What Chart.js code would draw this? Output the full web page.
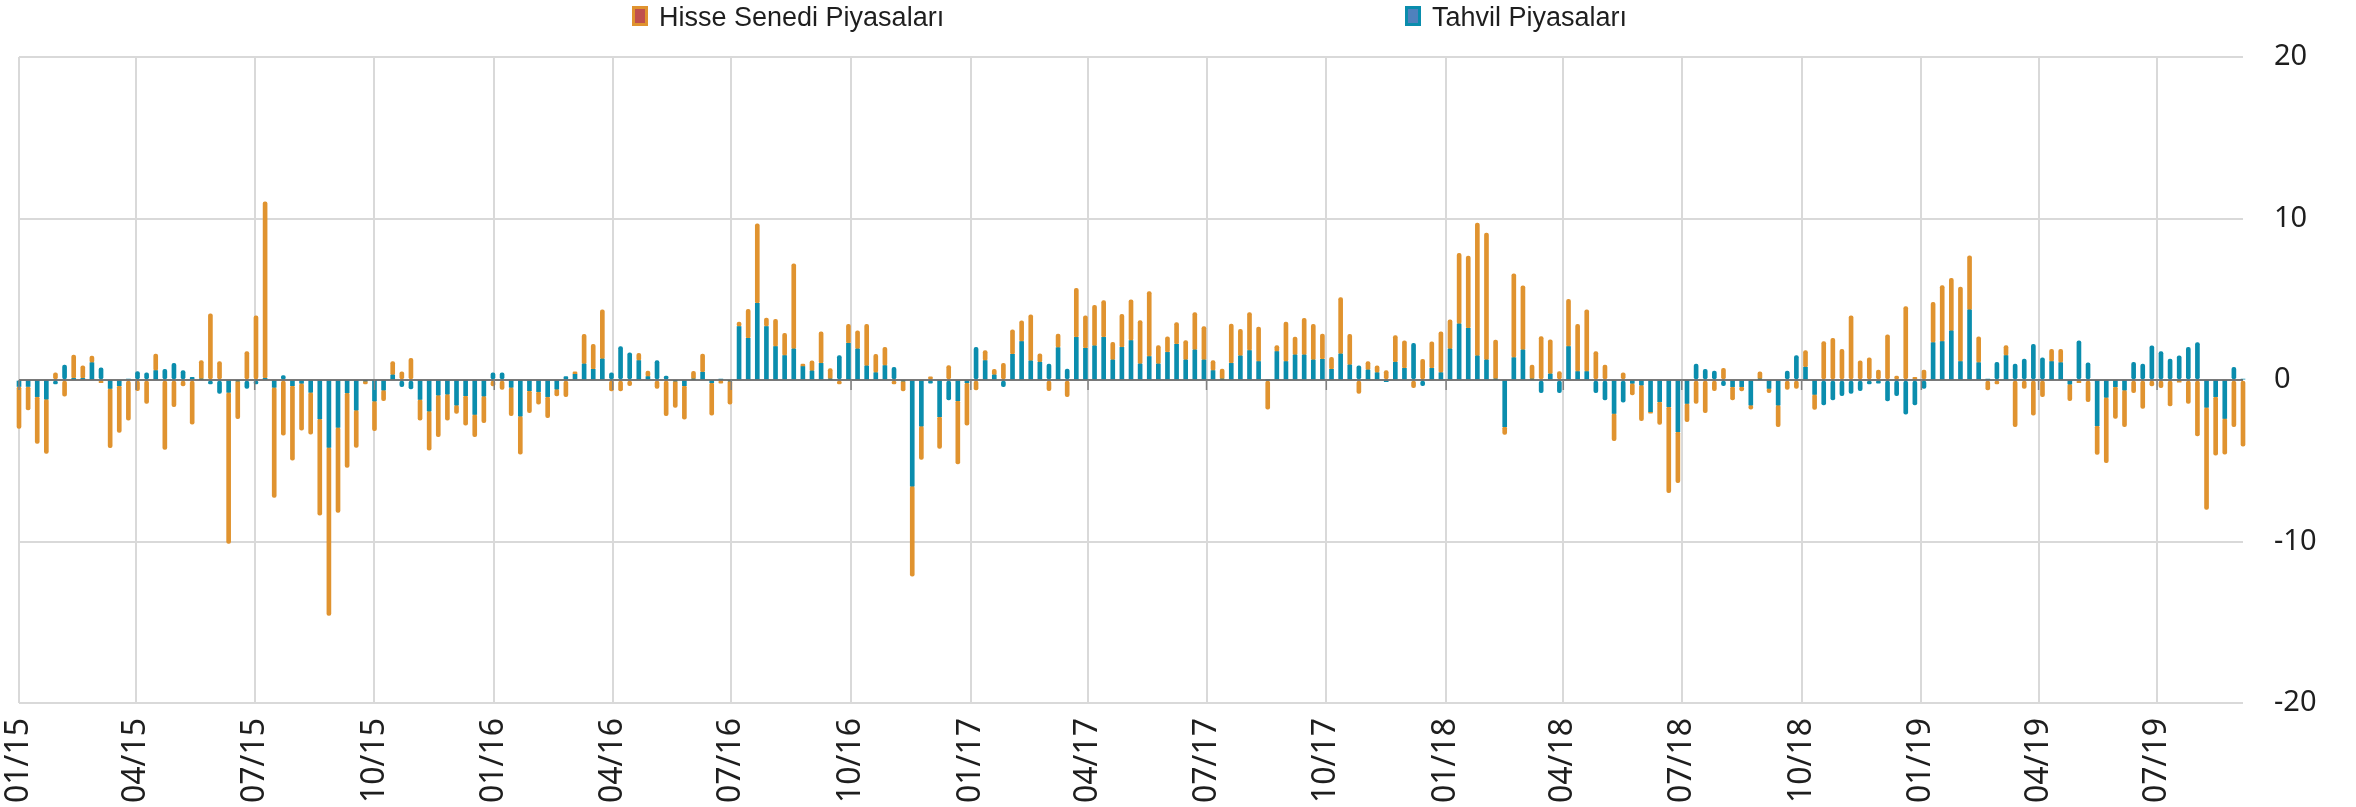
<!DOCTYPE html>
<html>
<head>
<meta charset="utf-8">
<script src="https://cdn.jsdelivr.net/npm/chart.js@4.4.1/dist/chart.umd.min.js"></script>
<style>
html,body{margin:0;padding:0;background:#ffffff;overflow:hidden;}
canvas{display:block;}
</style>
</head>
<body>
<canvas id="chart" width="2356" height="807"></canvas>
<script>
// ---- Series names ----
const seriesNames = ['Hisse Senedi Piyasaları', 'Tahvil Piyasaları'];

// ---- Categories: weekly observations starting at this date, one every 7 days ----
const firstWeek = '2015-01-01';
const weekStepDays = 7;

// ---- Tick labels (quarter starts) ----
const tickDates = ['2015-01-01','2015-04-01','2015-07-01','2015-10-01',
                   '2016-01-01','2016-04-01','2016-07-01','2016-10-01',
                   '2017-01-01','2017-04-01','2017-07-01','2017-10-01',
                   '2018-01-01','2018-04-01','2018-07-01','2018-10-01',
                   '2019-01-01','2019-04-01','2019-07-01'];
const tickLabels = ['01/15','04/15','07/15','10/15','01/16','04/16','07/16','10/16',
                    '01/17','04/17','07/17','10/17','01/18','04/18','07/18','10/18',
                    '01/19','04/19','07/19'];
const yTicks = [-20, -10, 0, 10, 20];

// ---- Hisse Senedi Piyasaları (weekly) ----
const hisse2015 = [-2.6,-1.45,-2.9,-3.37,0.45,-1.0,1.45,0.77,0.41,-0.17,
  -3.67,-2.89,-2.48,-0.66,-1.45,1.03,-4.3,-1.65,-0.37,-2.73,
  1.15,4.09,1.14,-9.36,-2.35,1.76,3.97,10.93,-6.82,-3.41,
  -4.61,-2.9,-2.59,-5.97,-10.4,-5.27,-4.62,-2.31,-0.2,-1.84,
  -0.66,0.83,0.5,1.34,-1.28,-2.42,-2.58,-1.61,-0.52,-1.82,
  -1.38,-1.65,-0.37];
const hisse2016 = [-0.58,-1.76,-2.36,-1.36,-0.77,-1.3,-0.43,
  -1.03,0.15,1.84,1.55,3.04,-0.68,-0.68,-0.35,0.45,0.35,
  -0.52,-2.21,-1.65,-2.07,0.48,1.12,-2.0,-0.2,-1.45,0.27,
  1.8,4.92,0.52,1.69,1.38,5.27,0.15,0.62,1.96,0.66,
  -0.25,1.18,1.12,2.58,1.14,1.14,-0.25,-0.62,-5.58,-2.07,
  0.2,-1.96,0.89,-3.92,-2.62];
const hisse2017 = [-0.62,0.62,0.35,1.03,1.51,
  1.28,2.85,0.52,-0.66,0.85,-1.03,3.04,2.02,2.52,2.27,
  1.1,2.05,2.52,2.69,4.03,1.14,0.97,1.34,1.2,2.31,
  2.07,0.62,0.62,2.44,1.65,2.36,2.13,-1.8,0.37,2.44,
  1.1,2.27,2.21,1.57,0.74,3.49,1.9,-0.83,0.52,0.43,
  0.58,1.65,1.71,-0.48,1.28,1.65,2.54];
const hisse2018 = [1.8,4.38,4.48,
  8.22,7.85,2.42,-0.48,5.19,3.97,0.87,2.69,2.11,0.52,
  2.93,2.93,3.82,1.76,0.93,-1.69,0.45,-0.73,-2.21,-0.1,
  -1.41,-5.33,-3.16,-1.13,-1.45,-2.02,-0.66,0.72,-0.83,-0.27,
  -0.25,0.45,-0.27,-1.34,-0.58,-0.52,1.03,-0.93,2.38,2.58,
  1.9,3.97,1.18,1.38,0.62,2.79,0.25,4.55,0.17];
const hisse2019 = [0.62,
  2.5,3.47,3.26,4.61,3.35,1.61,-0.62,-0.25,0.62,-2.89,
  -0.52,-2.17,-1.03,0.76,0.83,-1.03,-0.17,-1.34,-1.78,-4.05,
  -1.97,-2.27,-0.79,-1.76,-0.37,-0.48,-1.61,-0.14,-1.45,-3.47,
  -6.33,-3.62,-2.21,-2.89,-4.09];

// ---- Tahvil Piyasaları (weekly) ----
const tahvil2015 = [-0.4,-0.4,-1.03,-1.18,-0.25,0.93,0.1,0.1,1.07,0.76,
  -0.52,-0.35,0.06,0.52,0.45,0.58,0.66,1.03,0.58,0.17,
  0.05,-0.25,-0.83,-0.76,-0.05,-0.52,-0.25,0.1,-0.45,0.27,
  -0.35,-0.2,-0.76,-2.4,-4.17,-2.93,-0.79,-1.86,-0.05,-1.3,
  -0.62,0.31,-0.41,-0.56,-1.2,-1.92,-0.93,-0.87,-1.55,-0.97,
  -2.13,-0.99,0.45];
const tahvil2016 = [0.45,-0.45,-2.23,-0.66,-0.72,-1.03,-0.56,
  0.21,0.35,0.99,0.66,1.3,0.45,2.07,1.69,1.2,0.21,
  1.2,0.25,-0.05,-0.35,0.05,0.48,-0.17,0.05,-0.05,3.31,
  2.58,4.75,3.31,2.07,1.51,1.92,0.83,0.56,1.03,0.05,
  1.51,2.27,1.92,0.87,0.45,0.89,0.79,-0.05,-6.57,-2.85,
  -0.2,-2.27,-1.24,-1.28,-0.17];
const tahvil2017 = [2.02,1.2,0.31,-0.41,1.59,
  2.38,1.18,1.1,0.99,2.0,0.68,2.64,1.96,2.11,2.64,
  1.24,2.02,2.44,0.99,1.45,0.99,1.71,2.21,1.24,1.86,
  1.24,0.58,0.05,1.03,1.49,1.82,1.14,0,1.76,1.14,
  1.55,1.55,1.24,1.28,0.66,1.61,0.93,0.87,0.62,0.45,
  -0.1,1.1,0.72,2.27,-0.35,0.72,0.45];
const tahvil2018 = [1.92,3.47,3.2,
  1.49,1.24,0.05,-2.89,1.38,1.86,0.05,-0.79,0.37,-0.79,
  2.07,0.52,0.52,-0.79,-1.24,-2.07,-1.38,-0.2,-0.31,-1.96,
  -1.34,-1.65,-3.2,-1.45,0.99,0.66,0.56,-0.35,-0.41,-0.41,
  -1.55,0.05,-0.52,-1.55,0.56,1.51,0.79,-0.89,-1.55,-1.24,
  -0.97,-0.83,-0.66,-0.25,-0.2,-1.3,-0.97,-2.11,-1.55];
const tahvil2019 = [-0.52,
  2.31,2.38,3.04,1.14,4.34,1.07,0.05,1.1,1.51,0.99,
  1.3,2.21,1.38,1.14,1.07,-0.25,2.42,1.07,-2.83,-1.07,
  -0.41,-0.62,1.1,0.99,2.11,1.76,1.3,1.49,2.02,2.31,
  -1.69,-1.03,-2.38,0.79,0.05];

// ---- Build library structures from the arrays above ----
const hisse = [].concat(hisse2015, hisse2016, hisse2017, hisse2018, hisse2019);
const tahvil = [].concat(tahvil2015, tahvil2016, tahvil2017, tahvil2018, tahvil2019);
const MS_DAY = 86400000;
const dayOf = s => Math.round((Date.parse(s) - Date.parse(firstWeek)) / MS_DAY);
const weekDay = hisse.map((_, i) => i * weekStepDays);   // day offset of each weekly category
const tickDays = tickDates.map(dayOf);

const colors = {
  hisseBar: '#E0932F', hisseKey: '#C0504D',
  tahvilBar: '#0A8DAD', tahvilKey: '#4F81BD',
  grid: '#D9D9D9', zero: '#595959', text: '#1E1E1E'
};

const overlay = {
  id: 'overlay',
  afterDatasetsDraw(chart) {
    const {ctx, chartArea, scales} = chart;
    const y0 = scales.y.getPixelForValue(0);
    ctx.save();
    ctx.strokeStyle = colors.zero;
    ctx.lineWidth = 1.3;
    ctx.beginPath();
    ctx.moveTo(chartArea.left, y0);
    ctx.lineTo(chartArea.right, y0);
    ctx.stroke();
    ctx.strokeStyle = '#808080';
    ctx.lineWidth = 1.5;
    tickDays.forEach(d => {
      const px = scales.x.getPixelForValue(d);
      ctx.beginPath();
      ctx.moveTo(px, y0);
      ctx.lineTo(px, y0 + 10);
      ctx.stroke();
    });
    ctx.restore();
  },
  afterDraw(chart) {
    const ctx = chart.ctx;
    const items = [
      {left: 632, edge: colors.hisseBar, fill: colors.hisseKey, label: seriesNames[0]},
      {left: 1405, edge: colors.tahvilBar, fill: colors.tahvilKey, label: seriesNames[1]}
    ];
    ctx.save();
    ctx.font = '27px "Liberation Sans", Arial, sans-serif';
    ctx.textBaseline = 'alphabetic';
    ctx.textAlign = 'left';
    items.forEach(it => {
      ctx.fillStyle = it.edge;
      ctx.fillRect(it.left, 6, 16, 20);
      ctx.fillStyle = it.fill;
      ctx.fillRect(it.left + 3, 9, 10, 14);
      ctx.fillStyle = colors.text;
      ctx.fillText(it.label, it.left + 27, 26);
    });
    ctx.restore();
  }
};

const barCommon = {
  barThickness: 4,
  borderRadius: 2,
  borderSkipped: false,
  borderWidth: 0,
  clip: false
};

new Chart(document.getElementById('chart'), {
  type: 'bar',
  data: {
    datasets: [
      Object.assign({
        label: seriesNames[0],
        data: hisse.map((v, i) => ({x: weekDay[i], y: v})),
        backgroundColor: colors.hisseBar,
        order: 1
      }, barCommon),
      Object.assign({
        label: seriesNames[1],
        data: tahvil.map((v, i) => ({x: weekDay[i], y: v})),
        backgroundColor: colors.tahvilBar,
        order: 0
      }, barCommon)
    ]
  },
  options: {
    responsive: false,
    animation: false,
    devicePixelRatio: 1,
    layout: {padding: {left: 19, top: 57, right: 0, bottom: 0}},
    plugins: {legend: {display: false}, tooltip: {enabled: false}},
    scales: {
      x: {
        type: 'linear',
        stacked: true,
        offset: false,
        bounds: 'data',
        min: 0,
        max: weekDay[weekDay.length - 1],
        afterBuildTicks: s => { s.ticks = tickDays.map(v => ({value: v})); },
        afterFit: s => { s.height = 104; },
        border: {display: false},
        grid: {color: colors.grid, lineWidth: 2, drawTicks: false, offset: false},
        ticks: {
          autoSkip: false,
          maxRotation: 90,
          minRotation: 90,
          padding: 15,
          color: colors.text,
          font: {family: '"Noto Sans", "Open Sans", sans-serif', size: 32},
          callback: (v, i) => tickLabels[i]
        }
      },
      y: {
        position: 'right',
        stacked: true,
        min: yTicks[0],
        max: yTicks[yTicks.length - 1],
        afterBuildTicks: s => { s.ticks = yTicks.map(v => ({value: v})); },
        afterFit: s => { s.width = 113; },
        border: {display: false},
        grid: {color: colors.grid, lineWidth: 2, drawTicks: false},
        ticks: {
          padding: 31,
          color: colors.text,
          font: {family: '"Noto Sans", "Open Sans", sans-serif', size: 29},
          callback: v => String(v)
        }
      }
    }
  },
  plugins: [overlay]
});
</script>
</body>
</html>
